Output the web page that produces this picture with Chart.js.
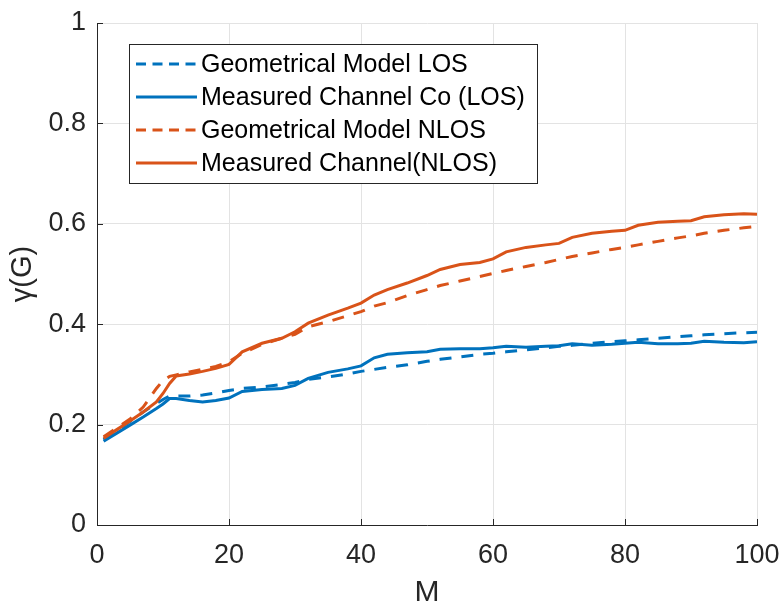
<!DOCTYPE html>
<html>
<head>
<meta charset="utf-8">
<script src="https://cdn.jsdelivr.net/npm/chart.js@4.4.0/dist/chart.umd.min.js"></script>
<style>
  html, body { margin: 0; padding: 0; background: #fff; }
</style>
</head>
<body>
<canvas id="myChart" width="784" height="608"></canvas>
<script>
// M values (x axis)
const mValues = [1, 3, 5, 7, 9, 10, 11, 12, 14, 16, 18, 20, 22, 25, 28, 30, 32, 35, 38, 40, 42, 44, 47, 50,
  52, 55, 58, 60, 62, 65, 68, 70, 72, 75, 78, 80, 82, 85, 88, 90, 92, 95, 98, 100];

const geoLos = [0.170, 0.188, 0.206, 0.225, 0.242, 0.250, 0.257, 0.257, 0.257, 0.259, 0.263, 0.268, 0.272, 0.275,
  0.280, 0.284, 0.290, 0.295, 0.301, 0.306, 0.310, 0.314, 0.319, 0.326, 0.330, 0.335, 0.340, 0.342, 0.345,
  0.349, 0.353, 0.356, 0.358, 0.362, 0.365, 0.367, 0.369, 0.372, 0.375, 0.377, 0.379, 0.381, 0.383, 0.384];

const measLos = [0.167, 0.183, 0.199, 0.215, 0.232, 0.241, 0.252, 0.252, 0.248, 0.245, 0.248, 0.253, 0.266, 0.270,
  0.272, 0.278, 0.292, 0.304, 0.311, 0.317, 0.333, 0.340, 0.343, 0.345, 0.350, 0.351, 0.351, 0.353, 0.356,
  0.354, 0.356, 0.357, 0.361, 0.358, 0.360, 0.362, 0.364, 0.361, 0.361, 0.362, 0.366, 0.364, 0.363, 0.365];

const geoNlos = [0.176, 0.193, 0.211, 0.235, 0.272, 0.288, 0.296, 0.299, 0.305, 0.310, 0.316, 0.325, 0.342, 0.360,
  0.372, 0.380, 0.395, 0.405, 0.417, 0.425, 0.436, 0.443, 0.457, 0.469, 0.477, 0.486, 0.495, 0.501, 0.507,
  0.515, 0.523, 0.529, 0.535, 0.542, 0.549, 0.553, 0.558, 0.565, 0.572, 0.576, 0.581, 0.587, 0.592, 0.595];

const measNlos = [0.173, 0.190, 0.207, 0.225, 0.245, 0.262, 0.282, 0.297, 0.301, 0.306, 0.312, 0.320, 0.345, 0.362,
  0.372, 0.385, 0.402, 0.418, 0.432, 0.442, 0.458, 0.469, 0.482, 0.497, 0.509, 0.519, 0.523, 0.530, 0.544,
  0.553, 0.558, 0.561, 0.573, 0.581, 0.585, 0.587, 0.597, 0.603, 0.605, 0.606, 0.614, 0.618, 0.620, 0.619];

const seriesNames = ['Geometrical Model LOS', 'Measured Channel Co (LOS)', 'Geometrical Model NLOS', 'Measured Channel(NLOS)'];
const seriesData = [geoLos, measLos, geoNlos, measNlos];

const xTicks = [0, 20, 40, 60, 80, 100];
const yTicks = [0, 0.2, 0.4, 0.6, 0.8, 1];

const BLUE = '#0072BD';
const ORANGE = '#D95319';
const FONT = '"Liberation Sans", Arial, Helvetica, sans-serif';

function toPoints(ys) {
  return ys.map((y, i) => ({ x: mValues[i], y: y }));
}

const styles = [
  { color: BLUE, dash: [12, 10] },
  { color: BLUE, dash: [] },
  { color: ORANGE, dash: [12, 10] },
  { color: ORANGE, dash: [] }
];

const datasets = seriesData.map((d, i) => ({
  label: seriesNames[i],
  data: toPoints(d),
  borderColor: styles[i].color,
  backgroundColor: styles[i].color,
  borderDash: styles[i].dash,
  borderWidth: 3,
  pointRadius: 0,
  fill: false,
  tension: 0,
  order: 3 - i   // last series drawn on top, like matlab
}));

// legend box inside the axes, like matlab
const boxLegend = {
  id: 'boxLegend',
  afterDatasetsDraw(chart) {
    const ctx = chart.ctx;
    const x0 = 129, y0 = 44, w = 408, h = 139;
    ctx.save();
    ctx.fillStyle = '#fff';
    ctx.fillRect(x0, y0, w, h);
    ctx.strokeStyle = '#262626';
    ctx.lineWidth = 1;
    ctx.strokeRect(x0 + 0.5, y0 + 0.5, w, h);
    chart.data.datasets.forEach((ds, i) => {
      const y = 64 + i * 33;
      ctx.strokeStyle = ds.borderColor;
      ctx.lineWidth = ds.borderWidth;
      ctx.setLineDash(ds.borderDash.length ? [10, 6.5] : []);
      ctx.beginPath();
      ctx.moveTo(136, y);
      ctx.lineTo(197, y);
      ctx.stroke();
      ctx.setLineDash([]);
      ctx.fillStyle = '#000';
      ctx.font = '25px ' + FONT;
      ctx.textBaseline = 'middle';
      ctx.textAlign = 'left';
      ctx.fillText(ds.label, 201, y + 1);
    });
    ctx.restore();
  }
};

// inward tick marks
const innerTicks = {
  id: 'innerTicks',
  afterDraw(chart) {
    const ctx = chart.ctx;
    const xs = chart.scales.x, ys = chart.scales.y;
    const a = chart.chartArea;
    ctx.save();
    ctx.strokeStyle = '#262626';
    ctx.lineWidth = 1;
    ctx.beginPath();
    xTicks.forEach(v => {
      const px = Math.round(xs.getPixelForValue(v)) + 0.5;
      ctx.moveTo(px, a.bottom);
      ctx.lineTo(px, a.bottom - 6);
    });
    yTicks.forEach(v => {
      const py = Math.round(ys.getPixelForValue(v)) + 0.5;
      ctx.moveTo(a.left, py);
      ctx.lineTo(a.left + 6, py);
    });
    ctx.stroke();
    ctx.restore();
  }
};

const config = {
  type: 'line',
  data: { datasets: datasets },
  options: {
    responsive: false,
    animation: false,
    layout: { padding: { top: 23, right: 27, left: 0, bottom: 0 } },
    plugins: {
      legend: { display: false },
      tooltip: { enabled: false }
    },
    scales: {
      x: {
        type: 'linear',
        min: 0,
        max: 100,
        afterFit: s => { s.height = 83; s.paddingLeft = 0; s.paddingRight = 0; },
        afterBuildTicks: s => { s.ticks = xTicks.map(v => ({ value: v })); },
        grid: { color: '#e3e3e3', drawTicks: false },
        border: { color: '#262626', width: 1 },
        ticks: { color: '#262626', font: { family: FONT, size: 27 }, padding: 14, maxRotation: 0 },
        title: { display: true, text: 'M', color: '#262626', font: { family: FONT, size: 30, lineHeight: 1 }, padding: 0 }
      },
      y: {
        min: 0,
        max: 1,
        afterFit: s => { s.width = 97; s.paddingTop = 0; s.paddingBottom = 0; },
        afterBuildTicks: s => { s.ticks = yTicks.map(v => ({ value: v })); },
        grid: { color: '#e3e3e3', drawTicks: false },
        border: { color: '#262626', width: 1 },
        ticks: { color: '#262626', font: { family: FONT, size: 27 }, padding: 11, callback: v => String(v) },
        title: { display: true, text: 'γ(G)', color: '#262626', font: { family: FONT, size: 29, lineHeight: 1 }, padding: { top: 8, bottom: 0 } }
      }
    }
  },
  plugins: [boxLegend, innerTicks]
};

const chart = document.getElementById('myChart');
const myChart = new Chart(chart, config);
</script>
</body>
</html>
